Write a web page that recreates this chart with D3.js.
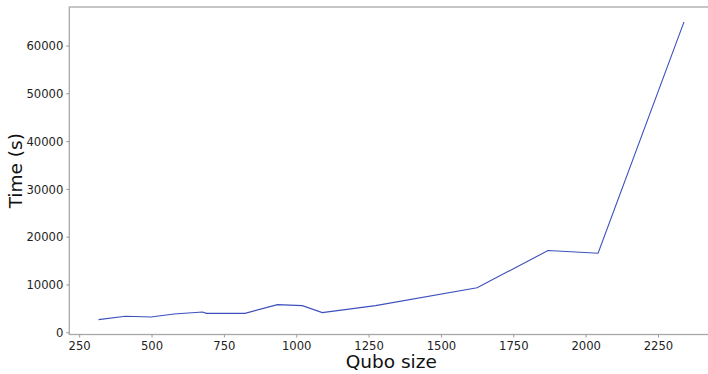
<!DOCTYPE html>
<html>
<head>
<meta charset="utf-8">
<script src="https://cdn.jsdelivr.net/npm/d3@7"></script>
<style>
  html, body { margin: 0; padding: 0; background: #fff; }
  svg { display: block; font-family: "DejaVu Sans", sans-serif; }
</style>
</head>
<body>
<svg id="chart" width="708" height="374"></svg>
<script>
// QUBO problem size vs. solve time
const quboSizes = [317, 409, 498, 578, 676, 690, 823, 935, 1021, 1090, 1274, 1625, 1870, 2043, 2340];
const timesSec  = [2650, 3340, 3190, 3820, 4230, 3960, 3960, 5780, 5570, 4110, 5570, 9320, 17100, 16540, 64940];
const xTicks = [250, 500, 750, 1000, 1250, 1500, 1750, 2000, 2250];
const yTicks = [0, 10000, 20000, 30000, 40000, 50000, 60000];

const svg = d3.select("#chart");
const plotLeft = 69.3, plotRight = 713.3, plotTop = 7, plotBottom = 334.5;

// 5% padding around the data range on both axes
const xMin = d3.min(quboSizes), xMax = d3.max(quboSizes);
const yMin = d3.min(timesSec), yMax = d3.max(timesSec);
const xPad = (xMax - xMin) * 0.05, yPad = (yMax - yMin) * 0.05;

const x = d3.scaleLinear().domain([xMin - xPad, xMax + xPad]).range([plotLeft, plotRight]);
const y = d3.scaleLinear().domain([yMin - yPad, yMax + yPad]).range([plotBottom, plotTop]);

// frame
svg.append("rect")
  .attr("x", plotLeft).attr("y", plotTop)
  .attr("width", plotRight - plotLeft).attr("height", plotBottom - plotTop)
  .attr("fill", "none").attr("stroke", "#a8a8a8").attr("stroke-width", 1.3);

const xAxis = svg.append("g")
  .attr("transform", `translate(0,${plotBottom})`)
  .call(d3.axisBottom(x).tickValues(xTicks).tickSize(3).tickPadding(4).tickFormat(d3.format("d")));
const yAxis = svg.append("g")
  .attr("transform", `translate(${plotLeft},0)`)
  .call(d3.axisLeft(y).tickValues(yTicks).tickSize(3).tickPadding(3).tickFormat(d3.format("d")));

[xAxis, yAxis].forEach(g => {
  g.select(".domain").remove();
  g.selectAll(".tick line").attr("stroke", "#999");
  g.selectAll(".tick text")
    .attr("fill", "#222")
    .style("font-size", "11.6px")
    .style("font-family", "DejaVu Sans, sans-serif");
});
yAxis.selectAll(".tick text").attr("dy", "0.36em");

// series line
const line = d3.line().x((d, i) => x(quboSizes[i])).y(d => y(d));
svg.append("path")
  .datum(timesSec)
  .attr("d", line)
  .attr("fill", "none")
  .attr("stroke", "#3c4fbd")
  .attr("stroke-width", 1.1);

// axis titles
svg.append("text")
  .attr("x", (plotLeft + plotRight) / 2).attr("y", 367.5)
  .attr("text-anchor", "middle")
  .attr("fill", "#111")
  .style("font-size", "18.5px")
  .text("Qubo size");

svg.append("text")
  .attr("transform", `translate(21.5,${(plotTop + plotBottom) / 2}) rotate(-90)`)
  .attr("text-anchor", "middle")
  .attr("fill", "#111")
  .style("font-size", "18.5px")
  .text("Time (s)");
</script>
</body>
</html>
